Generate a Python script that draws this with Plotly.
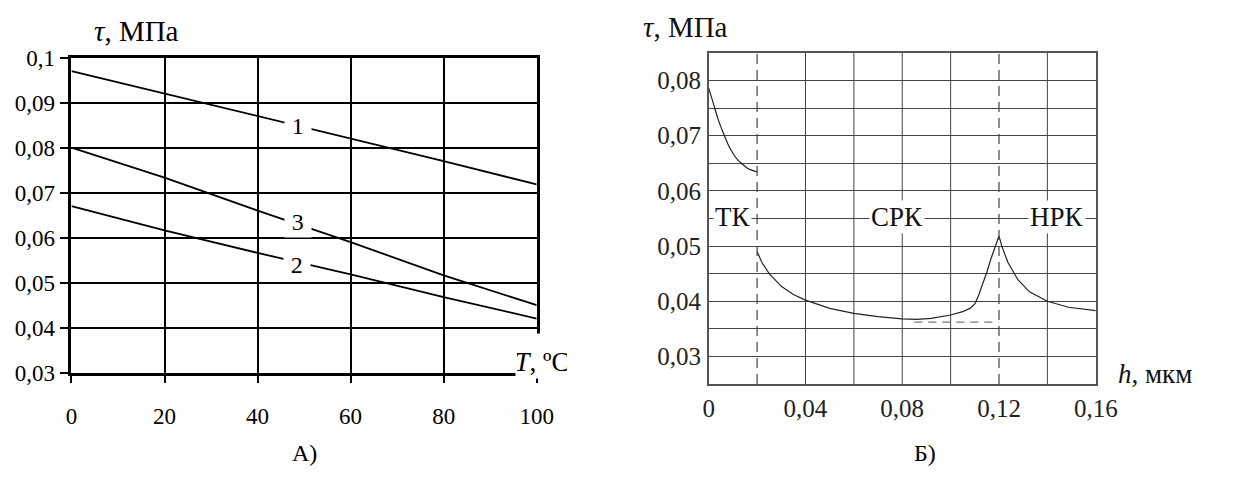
import plotly.graph_objects as go

# ---------- Data: chart A ----------
T_vals = [0, 20, 40, 60, 80, 100]
tau_1 = [0.097, 0.092, 0.087, 0.082, 0.077, 0.0718]
tau_2 = [0.067, 0.0616, 0.0566, 0.0518, 0.0468, 0.042]
tau_3 = [0.080, 0.0733, 0.066, 0.059, 0.0516, 0.045]
curve_labels = ["1", "2", "3"]
label_T = [48.7, 48.5, 48.7]
label_tau = [0.0848, 0.0538, 0.0634]

A_xticks = [0, 20, 40, 60, 80, 100]
A_xtext = ["0", "20", "40", "60", "80", "100"]
A_yticks = [0.03, 0.04, 0.05, 0.06, 0.07, 0.08, 0.09, 0.10]
A_ytext = ["0,03", "0,04", "0,05", "0,06", "0,07", "0,08", "0,09", "0,1"]

# ---------- Data: chart Б ----------
h_tk = [0, 0.002, 0.004, 0.006, 0.008, 0.010, 0.012, 0.014, 0.016, 0.018, 0.020]
tau_tk = [0.0786, 0.0757, 0.0728, 0.0705, 0.0684, 0.0668, 0.0656, 0.0648, 0.0641, 0.0637, 0.0634]

h_main = [0.020, 0.022, 0.025, 0.030, 0.035, 0.040, 0.050, 0.060, 0.070, 0.080, 0.086,
          0.092, 0.100, 0.105, 0.108, 0.110, 0.1115, 0.1133, 0.1150, 0.1166, 0.119, 0.120,
          0.1213, 0.1237, 0.1278, 0.1326, 0.140, 0.1487, 0.160]
tau_main = [0.0490, 0.0470, 0.0450, 0.0427, 0.0412, 0.0402, 0.0387, 0.0378, 0.0372, 0.0368, 0.0367,
            0.0369, 0.0375, 0.0381, 0.0387, 0.0395, 0.0410, 0.0431, 0.0453, 0.0476, 0.0504, 0.0518,
            0.0498, 0.0470, 0.0439, 0.0417, 0.0400, 0.0389, 0.0383]

h_base = [0.085, 0.120]
tau_base = [0.0362, 0.0362]

zone_bounds = [0.02, 0.12]
zone_labels = ["ТК", "СРК", "НРК"]
zone_h = [0.0100, 0.078, 0.1440]
zone_tau = [0.0553, 0.0553, 0.0553]

B_xticks = [0, 0.04, 0.08, 0.12, 0.16]
B_xtext = ["0", "0,04", "0,08", "0,12", "0,16"]
B_xgrid = [0.04, 0.06, 0.08, 0.10, 0.14]
B_yticks = [0.025, 0.03, 0.035, 0.04, 0.045, 0.05, 0.055, 0.06, 0.065, 0.07, 0.075, 0.08, 0.085]
B_ytext = ["", "0,03", "", "0,04", "", "0,05", "", "0,06", "", "0,07", "", "0,08", ""]

FONT = "Liberation Serif, Times New Roman, serif"
W, H = 1237, 490

fig = go.Figure()

# chart A traces
for tv in (tau_1, tau_2, tau_3):
    fig.add_trace(go.Scatter(x=T_vals, y=tv, mode="lines", xaxis="x", yaxis="y",
                             line=dict(color="black", width=1.8), showlegend=False,
                             hoverinfo="skip"))

# chart Б traces
fig.add_trace(go.Scatter(x=h_tk, y=tau_tk, mode="lines", xaxis="x2", yaxis="y2",
                         line=dict(color="#222", width=1.2, shape="spline", smoothing=0.6),
                         showlegend=False))
fig.add_trace(go.Scatter(x=h_main, y=tau_main, mode="lines", xaxis="x2", yaxis="y2",
                         line=dict(color="#222", width=1.2), showlegend=False))
fig.add_trace(go.Scatter(x=h_base, y=tau_base, mode="lines", xaxis="x2", yaxis="y2",
                         line=dict(color="#777", width=1.3, dash="8px,6px"), showlegend=False))

shapes = []
for g in B_xgrid:
    shapes.append(dict(type="line", xref="x2", yref="y2 domain", x0=g, x1=g, y0=0, y1=1,
                       line=dict(color="#444", width=1), layer="below"))
for b in zone_bounds:
    shapes.append(dict(type="line", xref="x2", yref="y2 domain", x0=b, x1=b, y0=0, y1=1,
                       line=dict(color="#444", width=1.2, dash="10px,6px")))

annotations = []
for lab, tx, ty in zip(curve_labels, label_T, label_tau):
    annotations.append(dict(x=tx, y=ty, xref="x", yref="y", text="\u2009" + lab + "\u2009",
                            showarrow=False, bgcolor="white", borderpad=2,
                            font=dict(family=FONT, size=24, color="black")))
for lab, zx, zy in zip(zone_labels, zone_h, zone_tau):
    annotations.append(dict(x=zx, y=zy, xref="x2", yref="y2", text=lab,
                            showarrow=False, bgcolor="white", borderpad=1,
                            font=dict(family=FONT, size=27, color="#111")))

annotations += [
    dict(x=88 / W, y=1 - 20 / H, xref="paper", yref="paper", xanchor="left", yanchor="middle",
         text="<i>τ</i>, МПа", showarrow=False, font=dict(family=FONT, size=29, color="black")),
    dict(x=650 / W, y=1 - 16 / H, xref="paper", yref="paper", xanchor="left", yanchor="middle",
         text="<i>τ</i>, МПа", showarrow=False, font=dict(family=FONT, size=29, color="#111")),
    dict(x=548 / W, y=1 - 362 / H, xref="paper", yref="paper", xanchor="center", yanchor="middle",
         width=50, height=42, valign="bottom",
         text="<i>T</i>, ºC", showarrow=False, bgcolor="white",
         font=dict(family=FONT, size=27, color="black")),
    dict(x=1136 / W, y=1 - 381 / H, xref="paper", yref="paper", xanchor="left", yanchor="middle",
         text="<i>h</i>, мкм", showarrow=False, font=dict(family=FONT, size=27, color="#111")),
    dict(x=305 / W, y=1 - 465 / H, xref="paper", yref="paper", xanchor="center", yanchor="middle",
         text="А)", showarrow=False, font=dict(family=FONT, size=24, color="black")),
    dict(x=940 / W, y=1 - 465 / H, xref="paper", yref="paper", xanchor="center", yanchor="middle",
         text="Б)", showarrow=False, font=dict(family=FONT, size=24, color="black")),
]

fig.update_layout(
    width=W, height=H,
    margin=dict(l=0, r=0, t=0, b=0),
    paper_bgcolor="white", plot_bgcolor="white",
    showlegend=False,
    font=dict(family=FONT),
    shapes=shapes,
    annotations=annotations,
    xaxis=dict(domain=[67 / W, 543 / W], range=[0, 100], tickmode="array",
               tickvals=A_xticks, ticktext=A_xtext, showgrid=True, gridcolor="black", gridwidth=2,
               showline=True, linecolor="black", linewidth=3, mirror=True, zeroline=False,
               ticks="outside", ticklen=7, tickwidth=2, tickcolor="black", ticklabelstandoff=14,
               tickfont=dict(family=FONT, size=23, color="black"), anchor="y"),
    yaxis=dict(domain=[1 - 380 / H, 1 - 48 / H], range=[0.03, 0.10], tickmode="array",
               tickvals=A_yticks, ticktext=A_ytext, showgrid=True, gridcolor="black", gridwidth=2,
               showline=True, linecolor="black", linewidth=3, mirror=True, zeroline=False,
               ticks="outside", ticklen=8, tickwidth=2, tickcolor="black", ticklabelstandoff=1,
               tickfont=dict(family=FONT, size=23, color="black"), anchor="x"),
    xaxis2=dict(domain=[719 / W, 1115 / W], range=[0, 0.16], tickmode="array",
                tickvals=B_xticks, ticktext=B_xtext, showgrid=False,
                showline=True, linecolor="#555", linewidth=1.5, mirror=True, zeroline=False,
                ticks="", ticklabelstandoff=1,
                tickfont=dict(family=FONT, size=25, color="#222"), anchor="y2"),
    yaxis2=dict(domain=[1 - 392 / H, 1 - 43 / H], range=[0.025, 0.085], tickmode="array",
                tickvals=B_yticks, ticktext=B_ytext, showgrid=True, gridcolor="#444", gridwidth=1,
                showline=True, linecolor="#555", linewidth=1.5, mirror=True, zeroline=False,
                ticks="", ticklabelstandoff=1,
                tickfont=dict(family=FONT, size=25, color="#222"), anchor="x2"),
)

fig.write_html("out.html")
